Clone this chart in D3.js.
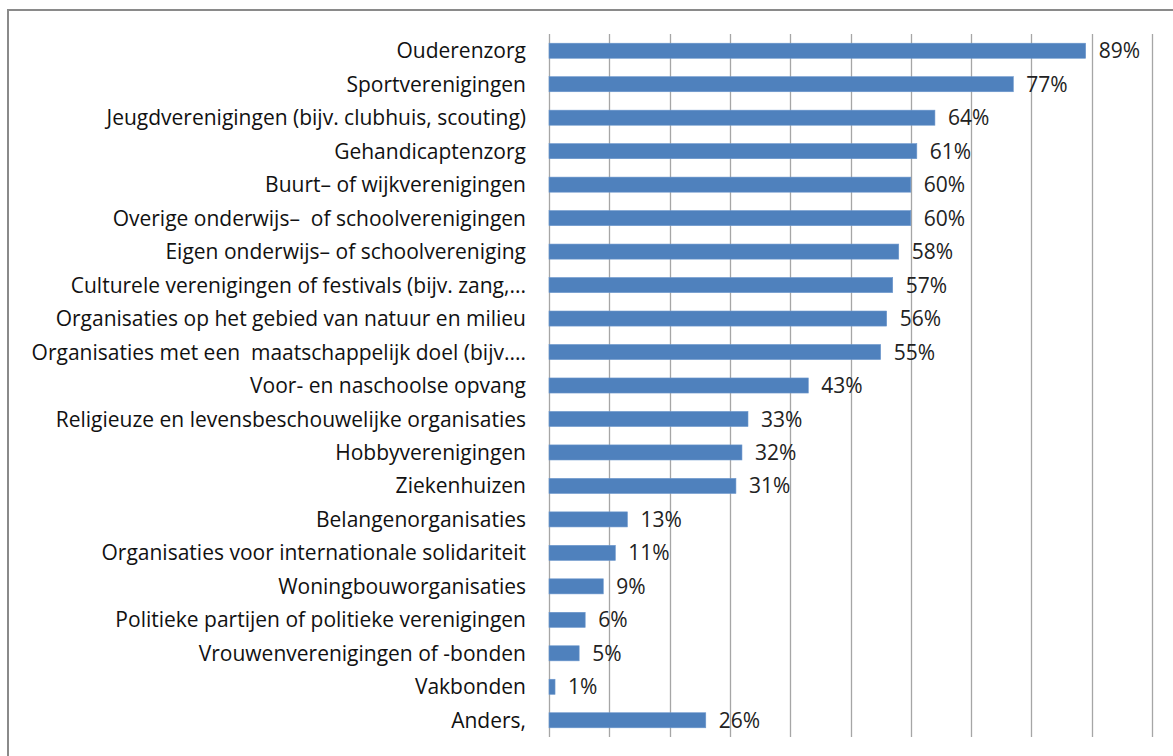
<!DOCTYPE html>
<html>
<head>
<meta charset="utf-8">
<script src="https://cdn.jsdelivr.net/npm/d3@7"></script>
<style>
  body { margin: 0; background: #fff; }
  svg { display: block; }
</style>
</head>
<body>
<div id="chart"></div>
<script>
// Data
const categories = [
    "Ouderenzorg",
    "Sportverenigingen",
    "Jeugdverenigingen (bijv. clubhuis, scouting)",
    "Gehandicaptenzorg",
    "Buurt\u2013 of wijkverenigingen",
    "Overige onderwijs\u2013  of schoolverenigingen",
    "Eigen onderwijs\u2013 of schoolvereniging",
    "Culturele verenigingen of festivals (bijv. zang,...",
    "Organisaties op het gebied van natuur en milieu",
    "Organisaties met een  maatschappelijk doel (bijv....",
    "Voor- en naschoolse opvang",
    "Religieuze en levensbeschouwelijke organisaties",
    "Hobbyverenigingen",
    "Ziekenhuizen",
    "Belangenorganisaties",
    "Organisaties voor internationale solidariteit",
    "Woningbouworganisaties",
    "Politieke partijen of politieke verenigingen",
    "Vrouwenverenigingen of -bonden",
    "Vakbonden",
    "Anders,"
];
const values = [89, 77, 64, 61, 60, 60, 58, 57, 56, 55, 43, 33, 32, 31, 13, 11, 9, 6, 5, 1, 26];
const gridTicks = [0, 10, 20, 30, 40, 50, 60, 70, 80, 90, 100];

// Space
const W = 1173, H = 756;
const margin = { top: 34, left: 549, right: 21, bottom: 19 };
const width = W - margin.left - margin.right,
      height = H - margin.top - margin.bottom;

const svg = d3.select("#chart")
    .append("svg")
    .attr("width", W)
    .attr("height", H);

// outer frame
svg.append("path")
    .attr("d", `M8,${H + 5} V10 H${W + 5}`)
    .attr("fill", "none")
    .attr("stroke", "#8a8a8a")
    .attr("stroke-width", 2);

const g = svg.append("g")
    .attr("transform", `translate(${margin.left},${margin.top})`);

const x = d3.scaleLinear()
    .domain([0, 100])
    .range([0, width]);

const y = d3.scaleBand()
    .domain(categories)
    .range([0, height])
    .paddingInner(0.55)
    .paddingOuter(0.275);

// gridlines
g.selectAll(".grid")
    .data(gridTicks)
    .join("line")
    .attr("class", "grid")
    .attr("x1", d => Math.round(x(d)) + 0.5)
    .attr("x2", d => Math.round(x(d)) + 0.5)
    .attr("y1", 0)
    .attr("y2", height)
    .attr("stroke", "#a6a6a6")
    .attr("stroke-width", 1.3);

// bars
g.selectAll(".bar")
    .data(values)
    .join("rect")
    .attr("class", "bar")
    .attr("x", 0)
    .attr("y", (d, i) => y(categories[i]))
    .attr("width", d => x(d))
    .attr("height", y.bandwidth())
    .attr("fill", "#4f81bd")
    .attr("stroke", "#6c97cc")
    .attr("stroke-width", 0.6);

// category labels
g.selectAll(".cat")
    .data(categories)
    .join("text")
    .attr("class", "cat")
    .attr("x", -23)
    .attr("y", d => y(d) + y.bandwidth() / 2)
    .attr("dy", "0.36em")
    .attr("text-anchor", "end")
    .style("font-family", "'Open Sans', sans-serif")
    .style("font-size", "21px")
    .style("fill", "#111")
    .style("white-space", "pre")
    .text(d => d);

// value labels
g.selectAll(".val")
    .data(values)
    .join("text")
    .attr("class", "val")
    .attr("x", d => x(d) + 13)
    .attr("y", (d, i) => y(categories[i]) + y.bandwidth() / 2)
    .attr("dy", "0.36em")
    .style("font-family", "'Open Sans', sans-serif")
    .style("font-size", "21px")
    .style("fill", "#222")
    .text(d => d + "%");
</script>
</body>
</html>
